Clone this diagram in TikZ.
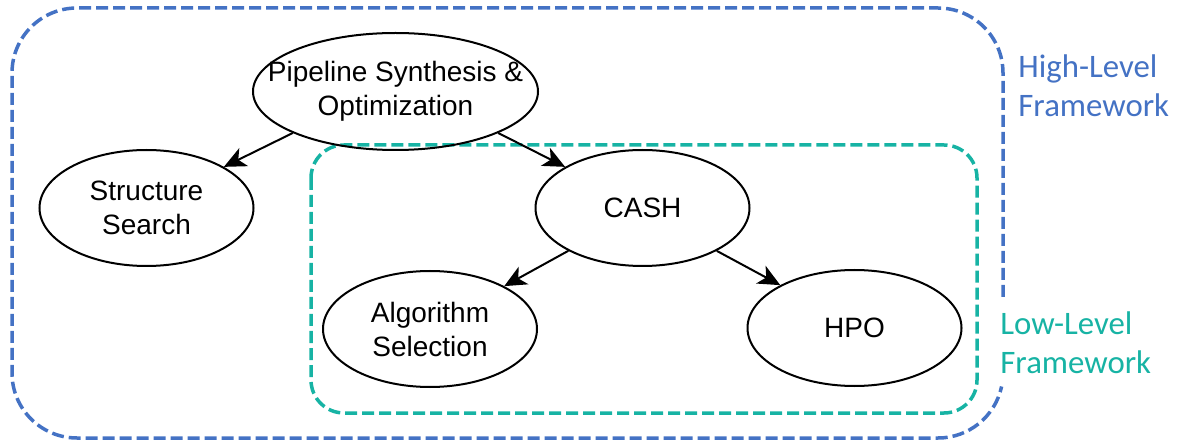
\documentclass[tikz,border=0pt]{standalone}
\usepackage{fontspec}
\setmainfont{Liberation Sans}
\newfontfamily\calibri{Carlito}
\usetikzlibrary{shapes.geometric,arrows.meta}
\definecolor{hlblue}{HTML}{4472C4}
\definecolor{llteal}{HTML}{17B3A4}
\begin{document}
\begin{tikzpicture}[x=0.5pt,y=-0.5pt,
  proc/.style={draw=black,line width=1pt,ellipse,minimum width=107pt,minimum height=58pt,
    inner sep=0pt,align=center,font=\fontsize{14}{17}\selectfont},
  conn/.style={draw=black,line width=1pt,-{Stealth[length=11pt,width=10pt,inset=3pt]}},
  framedash/.style={line width=1.75pt,dash pattern=on 6pt off 2.5pt},
  lbl/.style={inner sep=0pt,align=left,font=\calibri\fontsize{16.4}{19.5}\selectfont}]
\useasboundingbox (0,0) rectangle (1178,443);
% high-level frame (open on the right where the low-level label sits)
\draw[framedash,draw=hlblue] (1003,297) -- (1003,73)
  arc[start angle=0,end angle=-90,radius=65] -- (77,8)
  arc[start angle=-90,end angle=-180,radius=65] -- (12,373)
  arc[start angle=180,end angle=90,radius=65] -- (938,438)
  arc[start angle=90,end angle=12,radius=65];
% low-level frame
\draw[framedash,draw=llteal,rounded corners=16.5pt] (311,145) rectangle (977,413);
% nodes
\node[proc,minimum width=142.5pt,minimum height=58.5pt,inner xsep=-20pt] (ps) at (395.5,91.5) {Pipeline Synthesis \&\\Optimization};
\node[proc] (ss) at (146.5,208) {Structure\\Search};
\node[proc] (cash) at (642.5,208) {CASH};
\node[proc] (as) at (430,329) {Algorithm\\Selection};
\node[proc] (hpo) at (854.5,328) {HPO};
% labels
\node[lbl,text=hlblue,anchor=base west] (hl) at (1018,117) {High-Level\\Framework};
\node[lbl,text=llteal,anchor=base west] (ll) at (1000,373) {Low-Level\\Framework};
% connectors
\draw[conn] (ps.202) -- (ss.28);
\draw[conn] (ps.338) -- (cash.152);
\draw[conn] (cash.210) -- (as.30);
\draw[conn] (cash.330) -- (hpo.150);
\end{tikzpicture}
\end{document}
